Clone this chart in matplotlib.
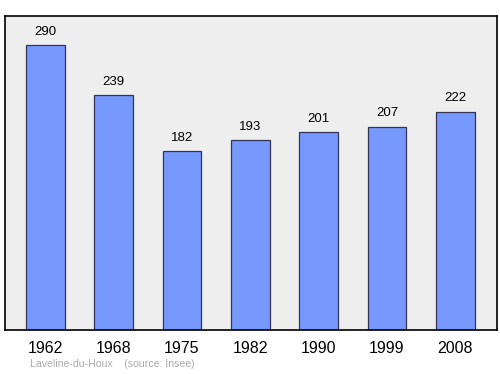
import matplotlib
matplotlib.use("Agg")

import matplotlib.pyplot as plt

plt.rcParams["font.family"] = ["Liberation Sans", "DejaVu Sans"]

years = ["1962", "1968", "1975", "1982", "1990", "1999", "2008"]
population = [290, 239, 182, 193, 201, 207, 222]

fig = plt.figure(figsize=(5, 3.74), dpi=100)
ax = fig.add_axes([0.01, 1 - 330 / 374, 0.984, 314 / 374])
ax.set_facecolor("#eeeeee")

x = list(range(len(years)))
ax.bar(x, population, width=0.57, color="#7799ff", edgecolor="#333355", linewidth=0.9)

for xi, v in zip(x, population):
    ax.text(xi, v + 7.5, str(v), ha="center", va="bottom", fontsize=9.5)

ax.set_xlim(-0.59, 6.61)
ax.set_ylim(0, 319.5)
ax.set_yticks([])
ax.set_xticks(x)
ax.set_xticklabels(years, fontsize=11.5)
ax.tick_params(axis="x", length=0, pad=8)
for s in ax.spines.values():
    s.set_linewidth(1.2)

fig.text(30 / 500, 1 - 364 / 374, "Laveline-du-Houx    (source: Insee)",
         fontsize=7.6, color="#aaaaaa", va="center", ha="left")

plt.savefig("out.png")
